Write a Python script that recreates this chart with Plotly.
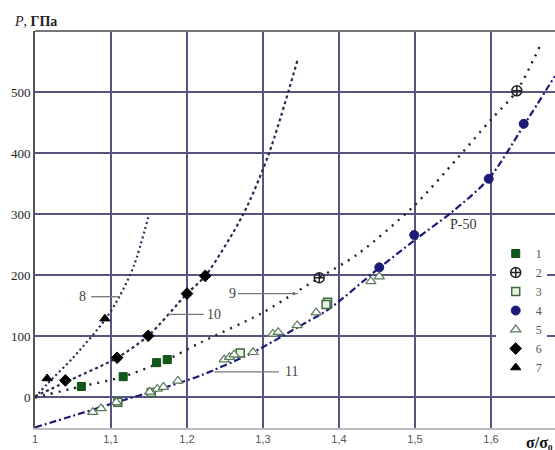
import plotly.graph_objects as go

# ---- data ----
s1_x = [1.061, 1.116, 1.160, 1.174]
s1_y = [18, 34, 57, 62]
s2_x = [1.374, 1.634]
s2_y = [196, 502]
s3_x = [1.109, 1.153, 1.270, 1.385, 1.383]
s3_y = [-8, 8, 73, 156, 152]
s4_x = [1.453, 1.499, 1.597, 1.643]
s4_y = [213, 266, 358, 448]
s5_x = [1.076, 1.087, 1.107, 1.151, 1.161, 1.169, 1.188, 1.249, 1.256, 1.262,
        1.287, 1.313, 1.320, 1.345, 1.370, 1.442, 1.453]
s5_y = [-24, -18, -8, 9, 14, 17, 27, 62, 66, 70, 74, 104, 107, 118, 139, 190, 198]
s6_x = [1.040, 1.108, 1.149, 1.200, 1.224]
s6_y = [28, 65, 101, 170, 199]
s7_x = [1.016, 1.092]
s7_y = [31, 129]

c8_x = [1.0, 1.016, 1.05, 1.092, 1.111, 1.13, 1.149]
c8_y = [0, 22, 65, 127, 165, 215, 295]
c10_x = [1.0, 1.04, 1.108, 1.149, 1.2, 1.224, 1.274, 1.308, 1.346]
c10_y = [2, 25, 65, 101, 170, 199, 300, 400, 555]
c9_x = [1.0, 1.061, 1.116, 1.174, 1.218, 1.297, 1.334, 1.374, 1.425, 1.499, 1.556, 1.6, 1.634, 1.666]
c9_y = [0, 18, 34, 62, 90, 137, 165, 196, 235, 314, 392, 455, 502, 580]
c11_x = [1.0, 1.05, 1.107, 1.16, 1.218, 1.287, 1.35, 1.387, 1.451, 1.5, 1.547, 1.597, 1.643, 1.684]
c11_y = [-49, -30, -8, 12, 36, 74, 118, 145, 210, 258, 302, 358, 445, 526]

x_ticks = [1.0, 1.1, 1.2, 1.3, 1.4, 1.5, 1.6]
x_tick_text = ["1", "1,1", "1,2", "1,3", "1,4", "1,5", "1,6"]
y_ticks = [0, 100, 200, 300, 400, 500]
y_tick_text = ["0", "100", "200", "300", "400", "500"]

curve_labels = [
    # text, text x, y, leader x0, x1
    ("8", 1.063, 165, 1.074, 1.111),
    ("10", 1.236, 136, 1.175, 1.222),
    ("9", 1.260, 170, 1.267, 1.346),
    ("11", 1.337, 42, 1.236, 1.321),
]

NAVY = "#1c1c78"
fig = go.Figure()

def curve(x, y, dash, color, width=2.2):
    fig.add_trace(go.Scatter(x=x, y=y, mode="lines", showlegend=False, hoverinfo="skip",
                             line=dict(color=color, width=width, dash=dash, shape="spline", smoothing=0.8)))

curve(c8_x, c8_y, "2px,3px", "#2a2a55")
curve(c10_x, c10_y, "3px,3px", "#2a2a55")
curve(c9_x, c9_y, "2px,6px", "#222222", 2.4)
curve(c11_x, c11_y, "7px,3px,2px,3px", NAVY)

def pts(x, y, name, symbol, color, size, fill=None, lw=1):
    fig.add_trace(go.Scatter(x=x, y=y, mode="markers", name=name,
                             marker=dict(symbol=symbol, size=size, color=fill if fill else color,
                                         line=dict(color=color, width=lw))))

pts(s1_x, s1_y, "1", "square", "#0d4d14", 8, "#0f5a1a")
pts(s2_x, s2_y, "2", "circle-cross-open", "#222222", 10, lw=1.5)
pts(s3_x, s3_y, "3", "square", "#3e6a3e", 8, "#e8f0e0", 1.5)
pts(s4_x, s4_y, "4", "circle", NAVY, 9, NAVY)
pts(s5_x, s5_y, "5", "triangle-up", "#5a7a5a", 9, "#ffffff", 1.2)
pts(s6_x, s6_y, "6", "diamond", "#000000", 9, "#000000")
pts(s7_x, s7_y, "7", "triangle-up", "#000000", 9, "#000000")

for txt, tx, ty, x0, x1 in curve_labels:
    fig.add_shape(type="line", x0=x0, x1=x1, y0=ty, y1=ty, line=dict(color="#777777", width=1.3))
    fig.add_annotation(x=tx, y=ty, text=txt, showarrow=False,
                       font=dict(family="Liberation Serif", size=14, color="#444444"))
fig.add_annotation(x=1.563, y=283, text="P-50", showarrow=False,
                   font=dict(family="Liberation Serif", size=14, color="#333333"))

# top frame
fig.add_shape(type="line", xref="paper", yref="paper", x0=0, x1=1, y0=1, y1=1,
              line=dict(color="#777777", width=2))

fig.add_annotation(xref="paper", yref="paper", x=-0.045, y=1.0, yshift=10, xanchor="left", yanchor="middle",
                   text="<i>P</i>, <b>ГПа</b>", showarrow=False,
                   font=dict(family="Liberation Serif", size=14, color="#222222"))
fig.add_annotation(xref="paper", yref="paper", x=1.0, y=0, yshift=-14, xanchor="right", yanchor="middle",
                   text="<b>σ/σ₀</b>", showarrow=False,
                   font=dict(family="Liberation Serif", size=16, color="#111111"))

fig.update_layout(
    width=555, height=450,
    margin=dict(l=35, r=0, t=31, b=22),
    paper_bgcolor="white", plot_bgcolor="white",
    legend=dict(x=0.886, y=0.476, xanchor="left", yanchor="top", bgcolor="white",
                itemwidth=30, tracegroupgap=0,
                font=dict(family="Liberation Serif", size=12, color="#555555")),
    xaxis=dict(range=[1.0, 1.0 + 520 / 760], tickvals=x_ticks, ticktext=x_tick_text,
               showgrid=True, gridcolor="#55557f", gridwidth=1.5, zeroline=False,
               showline=True, linecolor="#bbbbbb", linewidth=2,
               tickfont=dict(family="Liberation Sans", size=11, color="#555555"), ticklen=0),
    yaxis=dict(range=[-50, 600], tickvals=y_ticks, ticktext=y_tick_text,
               showgrid=True, gridcolor="#55557f", gridwidth=1.5, zeroline=False,
               showline=True, linecolor="#555555", linewidth=2,
               tickfont=dict(family="Liberation Serif", size=13, color="#222222"), ticklen=0),
)

fig.write_html("out.html", config={"displayModeBar": False},
               post_script="document.body.style.margin='0';")
